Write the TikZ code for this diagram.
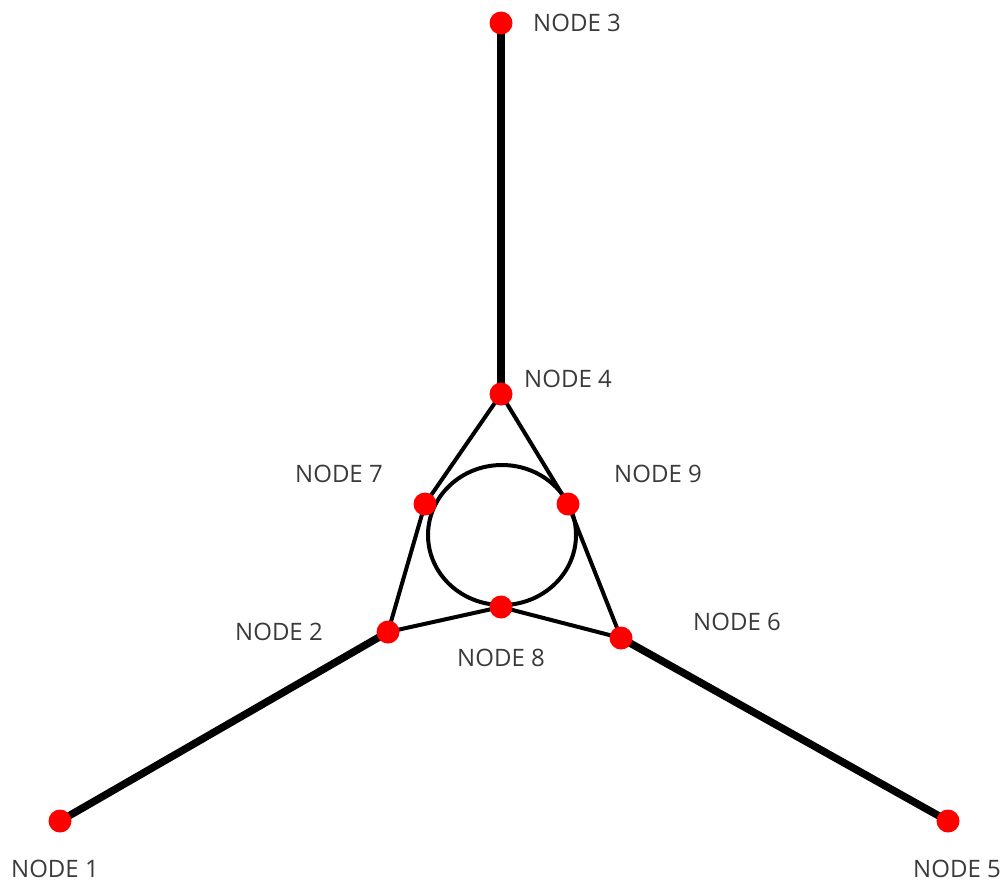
\documentclass[tikz,border=0pt]{standalone}
\usepackage{fontspec}
\setmainfont{Open Sans}
\definecolor{dotred}{HTML}{FF0000}
\definecolor{labelgray}{HTML}{3A3A3A}
\begin{document}
\begin{tikzpicture}[x=1pt,y=-1pt,
  dot/.style={circle,fill=dotred,inner sep=0pt,minimum size=23pt},
  lbl/.style={text=labelgray,font=\fontsize{24}{28}\selectfont,inner sep=0pt},
  trunk/.style={line width=7.5pt},
  link/.style={line width=4pt}]
\useasboundingbox (0,0) rectangle (1003,884);
% ring in the middle
\draw[link] (502,535) ellipse [x radius=74, y radius=70];
% vertices
\coordinate (p1) at (60,821);
\coordinate (p2) at (388,632);
\coordinate (p3) at (501,23);
\coordinate (p4) at (501,394);
\coordinate (p5) at (948,821);
\coordinate (p6) at (621,638);
\coordinate (p7) at (425,504);
\coordinate (p8) at (501,607);
\coordinate (p9) at (568,504);
% edges
\draw[trunk] (p3) -- (p4);
\draw[trunk] (p2) -- (p1);
\draw[trunk] (p6) -- (p5);
\draw[link] (p4) -- (p7) -- (p2) -- (p8) -- (p6) -- (p9) -- (p4);
% dots
\foreach \i in {1,...,9} \node[dot] (n\i) at (p\i) {};
% labels
\node[lbl] (t1) at (55,869) {NODE 1};
\node[lbl] (t2) at (279,632) {NODE 2};
\node[lbl] (t3) at (577,23) {NODE 3};
\node[lbl] (t4) at (568,379) {NODE 4};
\node[lbl] (t5) at (957,869) {NODE 5};
\node[lbl] (t6) at (737,622) {NODE 6};
\node[lbl] (t7) at (339,474) {NODE 7};
\node[lbl] (t8) at (501,658) {NODE 8};
\node[lbl] (t9) at (658,474) {NODE 9};
\end{tikzpicture}
\end{document}
